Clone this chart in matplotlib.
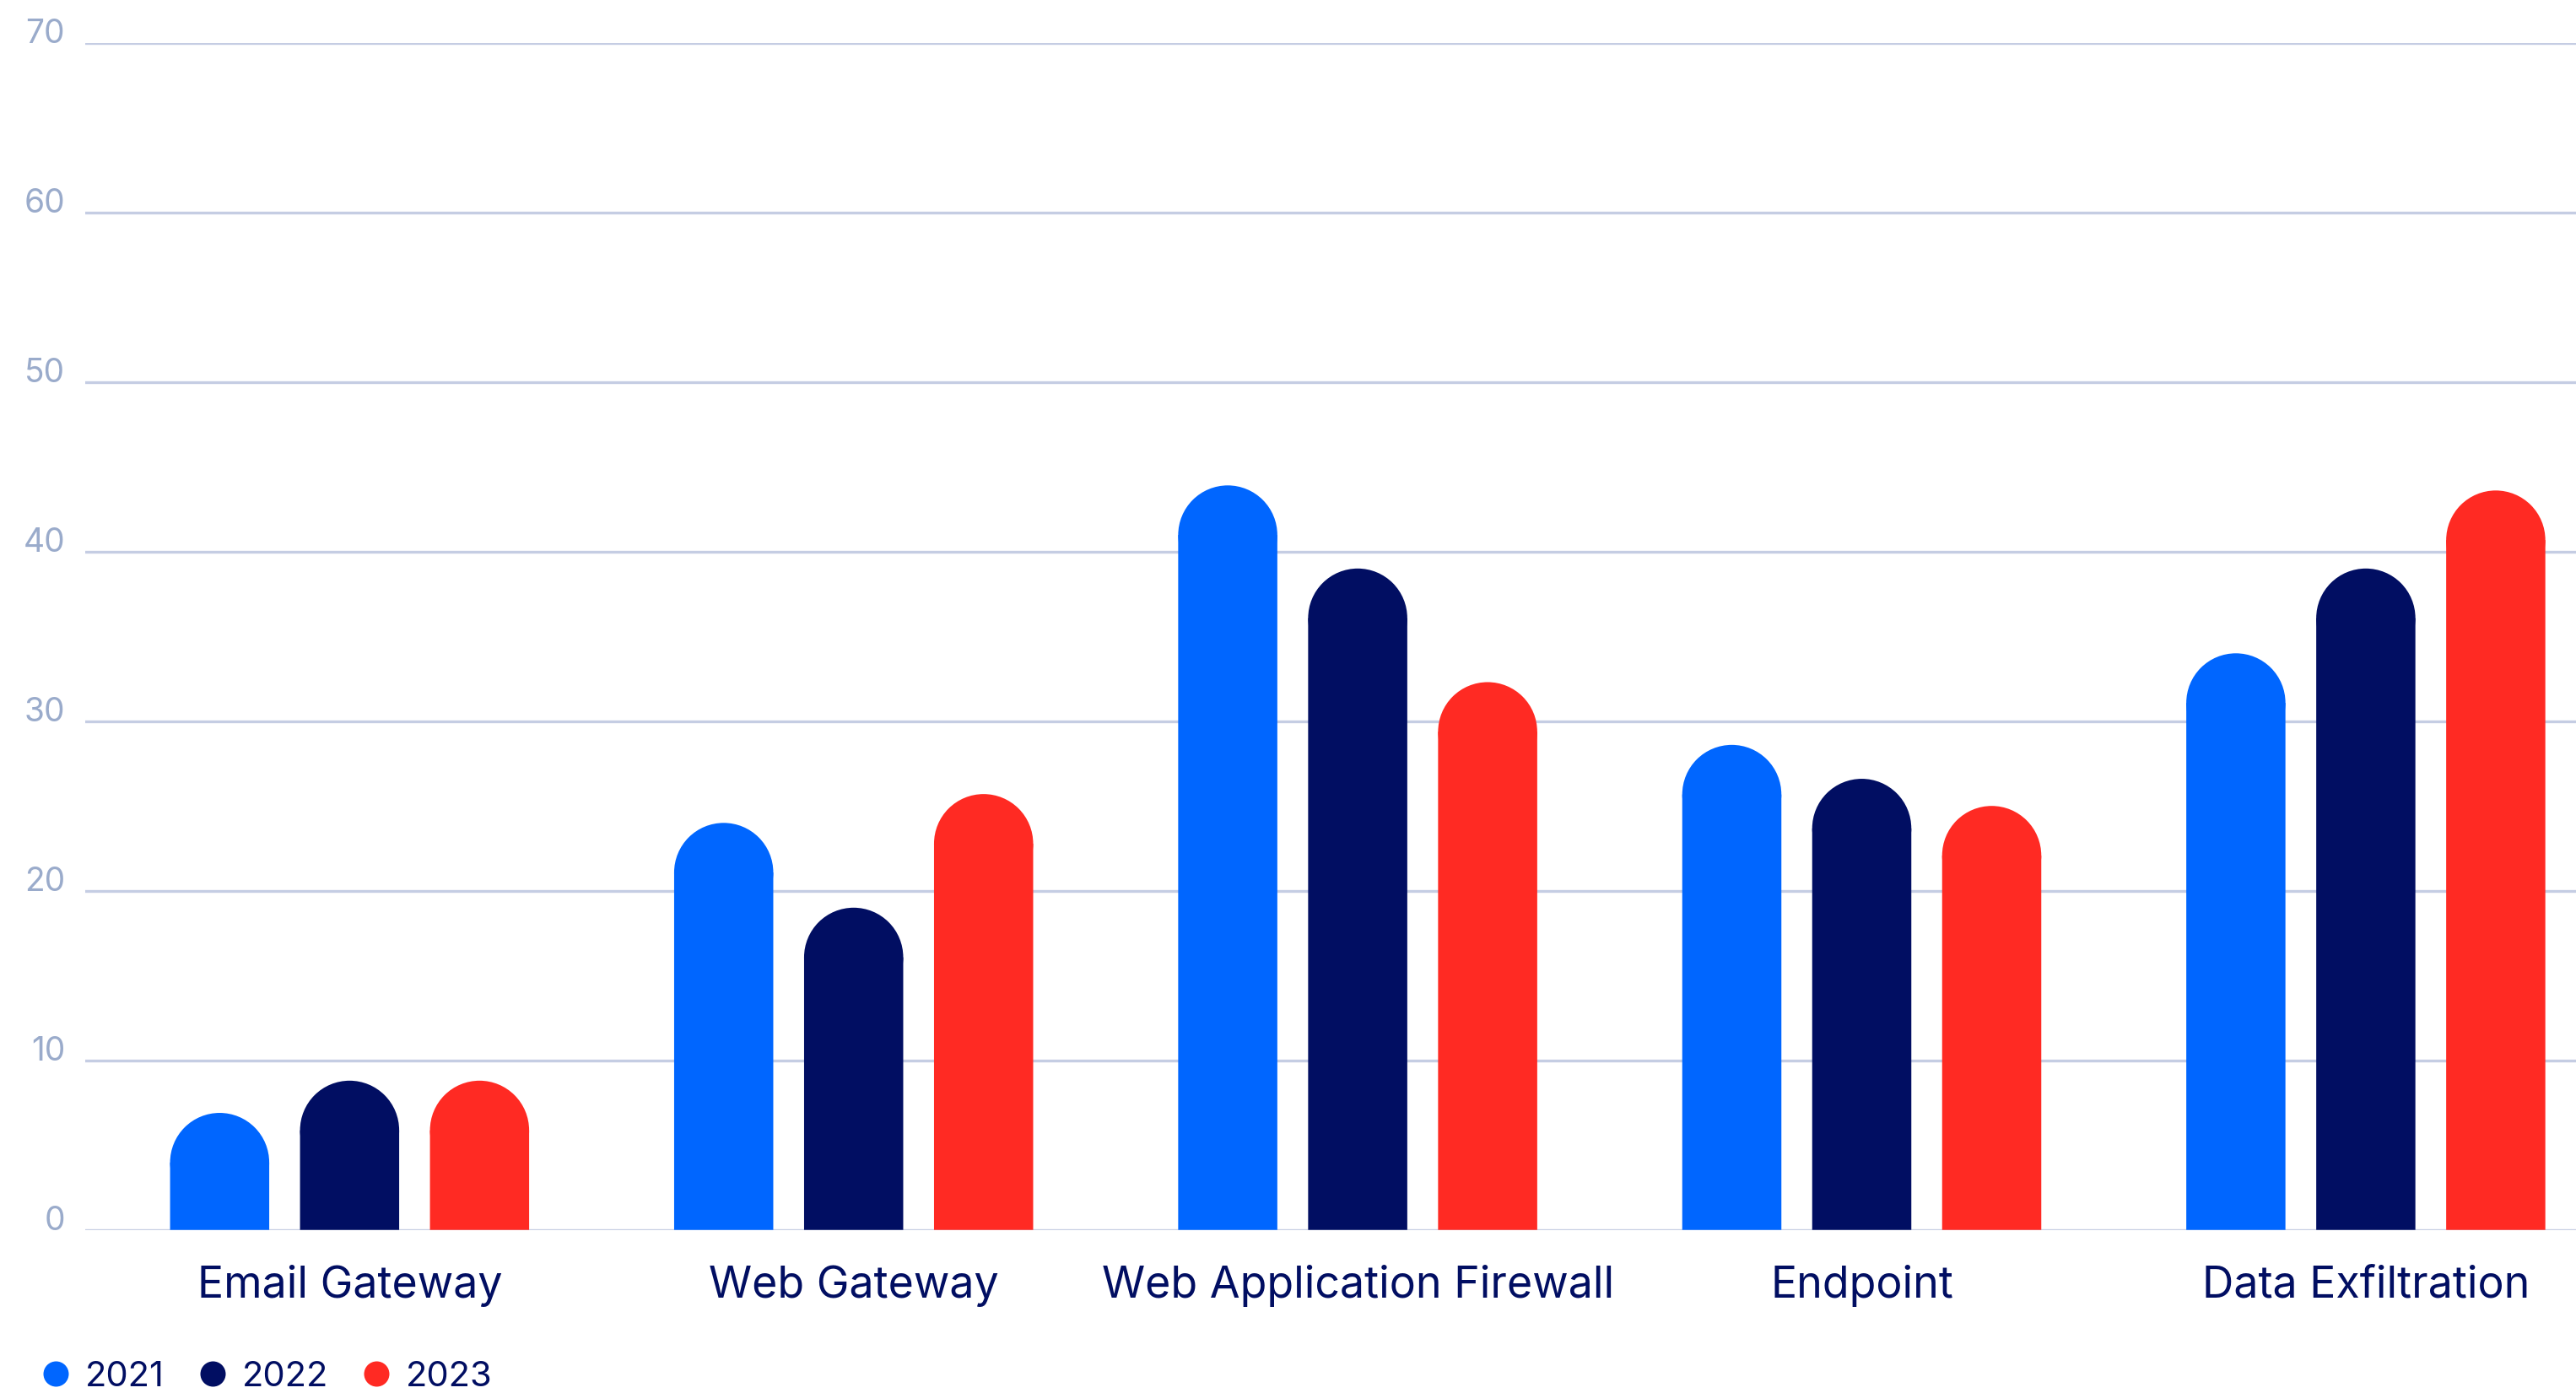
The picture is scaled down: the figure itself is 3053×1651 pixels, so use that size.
import matplotlib.pyplot as plt
from matplotlib.patches import Ellipse
from matplotlib.lines import Line2D
import numpy as np

# 数据
categories = ['Email Gateway', 'Web Gateway', 'Web Application Firewall', 'Endpoint', 'Data Exfiltration']
years = ['2021', '2022', '2023']
vals_2021 = [6.9, 24.0, 43.9, 28.6, 34.0]
vals_2022 = [8.8, 19.0, 39.0, 26.6, 39.0]
vals_2023 = [8.8, 25.7, 32.3, 25.0, 43.6]
y_ticks = [0, 10, 20, 30, 40, 50, 60, 70]

colors = ['#0066ff', '#010e62', '#ff2a23']
navy = '#010e62'
grid_color = '#c5cde3'
tick_color = '#9aabcb'

plt.rcParams['font.family'] = ['Inter', 'DejaVu Sans']

W, H, dpi = 3053, 1651, 200
fig = plt.figure(figsize=(W / dpi, H / dpi), dpi=dpi)
ax_left, ax_right = 101, 3053
ax_top, ax_bottom = 50.7, 1457.7
ax = fig.add_axes([ax_left / W, (H - ax_bottom) / H, (ax_right - ax_left) / W, (ax_bottom - ax_top) / H])

ax.set_xlim(-0.5245, 4.417)
ax.set_ylim(0, 70)

x = np.arange(len(categories))
width = 0.1967
offset = 0.2578

# 每个数据单位对应的像素，用于画圆顶
p0 = ax.transData.transform((0, 0))
p1 = ax.transData.transform((1, 1))
px_x = p1[0] - p0[0]
px_y = p1[1] - p0[1]
r_px = width * px_x / 2
ry = r_px / px_y

for i, (vals, c) in enumerate(zip([vals_2021, vals_2022, vals_2023], colors)):
    xs = x + (i - 1) * offset
    body = [v - ry for v in vals]
    ax.bar(xs, body, width, color=c, linewidth=0, zorder=3, snap=False)
    for xi, v in zip(xs, vals):
        ax.add_patch(Ellipse((xi, v - ry), width, 2 * ry, facecolor=c,
                             edgecolor='none', linewidth=0, zorder=3, snap=False))

# 网格与坐标轴
ax.set_yticks(y_ticks)
ax.yaxis.grid(True, color=grid_color, linewidth=1.2)
ax.set_axisbelow(True)
for s in ax.spines.values():
    s.set_visible(False)
ax.tick_params(axis='both', length=0)
ax.tick_params(axis='y', pad=8.6, labelsize=14, labelcolor=tick_color)
for lbl in ax.get_yticklabels():
    lbl.set_va('baseline')

ax.set_xticks(x)
ax.set_xticklabels(categories)
ax.tick_params(axis='x', pad=15, labelsize=18.7, labelcolor=navy)

# 图例
handles = [Line2D([], [], marker='o', linestyle='none', markersize=10.8,
                  markerfacecolor=c, markeredgewidth=0) for c in colors]
fig.legend(handles, years, loc='center left', bbox_to_anchor=(51 / W, 19 / H),
           ncol=3, frameon=False, fontsize=15, labelcolor=navy,
           handlelength=0.72, handletextpad=0.48, columnspacing=1.0, borderpad=0,
           borderaxespad=0)

plt.savefig('out.png', dpi=dpi)
